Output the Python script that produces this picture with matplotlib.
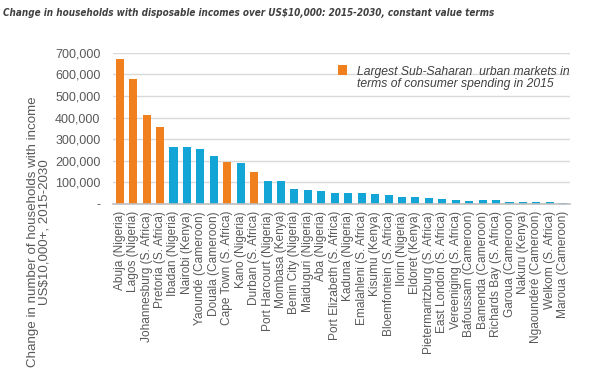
import matplotlib
matplotlib.use("Agg")
import matplotlib.pyplot as plt
from matplotlib.patches import Rectangle

cities = ["Abuja (Nigeria)", "Lagos (Nigeria)", "Johannesburg (S. Africa)", "Pretoria (S. Africa)",
          "Ibadan (Nigeria)", "Nairobi (Kenya)", "Yaoundé (Cameroon)", "Douala (Cameroon)",
          "Cape Town (S. Africa)", "Kano (Nigeria)", "Durban (S. Africa)", "Port Harcourt (Nigeria)",
          "Mombasa (Kenya)", "Benin City (Nigeria)", "Maiduguri (Nigeria)", "Aba (Nigeria)",
          "Port Elizabeth (S. Africa)", "Kaduna (Nigeria)", "Emalahleni (S. Africa)", "Kisumu (Kenya)",
          "Bloemfontein (S. Africa)", "Ilorin (Nigeria)", "Eldoret (Kenya)", "Pietermaritzburg (S. Africa)",
          "East London (S. Africa)", "Vereeniging (S. Africa)", "Bafoussam (Cameroon)", "Bamenda (Cameroon)",
          "Richards Bay (S. Africa)", "Garoua (Cameroon)", "Nakuru (Kenya)", "Ngaoundéré (Cameroon)",
          "Welkom (S. Africa)", "Maroua (Cameroon)"]
values = [672000, 578000, 414000, 356000, 263000, 263000, 255000, 222000, 195000, 192000,
          147000, 108000, 108000, 70000, 66000, 60000, 52000, 49000, 49000, 46000,
          41000, 34000, 33000, 27000, 23000, 17000, 16000, 17000, 17000, 10000,
          7000, 7000, 7000, 5000]
largest = [True, True, True, True, False, False, False, False, True, False,
           True] + [False] * 23
yticks = [0, 100000, 200000, 300000, 400000, 500000, 600000, 700000]
ytick_labels = ["-", "100,000", "200,000", "300,000", "400,000", "500,000", "600,000", "700,000"]

ORANGE = "#F07F1E"
BLUE = "#13A5D6"
colors = [ORANGE if l else BLUE for l in largest]

fig = plt.figure(figsize=(5.97, 3.76), dpi=100)
ax = fig.add_axes([113/597, 1 - 204/376, 457/597, (204 - 52.7)/376])

x = list(range(len(cities)))
ax.bar(x, values, width=0.6, color=colors, zorder=3)
ax.set_xlim(-0.5, len(cities) - 0.5)
ax.set_ylim(0, 700000)
ax.set_yticks(yticks)
ax.set_yticklabels(ytick_labels, fontfamily="Liberation Sans", fontsize=9, color="#595959")
ax.set_xticks(x)
ax.set_xticklabels(cities, rotation=90, fontfamily="Liberation Sans", fontsize=8.6, color="#595959")
ax.tick_params(axis="y", length=0, pad=9)
ax.tick_params(axis="x", length=0, pad=5)
ax.yaxis.grid(True, color="#D9D9D9", linewidth=1, zorder=0)
for s in ["top", "right", "left"]:
    ax.spines[s].set_visible(False)
ax.spines["bottom"].set_color("#BFBFBF")
ax.spines["bottom"].set_linewidth(1.2)
ax.spines["bottom"].set_zorder(4)

fig.text(39/597, 1 - 232/376, "Change in number of households with income\nUS$10,000+, 2015-2030",
         rotation=90, ha="center", va="center", fontfamily="Liberation Sans", fontsize=9.6,
         color="#595959", linespacing=1.0)

fig.text(3/597, 1 - 13/376, "Change in households with disposable incomes over US$10,000: 2015-2030, constant value terms",
         ha="left", va="center", fontfamily="DejaVu Sans", fontstretch="condensed", fontsize=7.1,
         fontweight="bold", fontstyle="italic", color="#404040")

fig.patches.append(Rectangle((338/597, 1 - 74.5/376), 9/597, 10/376, transform=fig.transFigure,
                             facecolor=ORANGE, edgecolor="none"))
fig.text(357/597, 1 - 78/376, "Largest Sub-Saharan  urban markets in\nterms of consumer spending in 2015",
         ha="left", va="center", fontfamily="Liberation Sans", fontsize=8.7, fontstyle="italic",
         color="#404040", linespacing=1.0)

fig.savefig("out.png", dpi=100, facecolor="white")
